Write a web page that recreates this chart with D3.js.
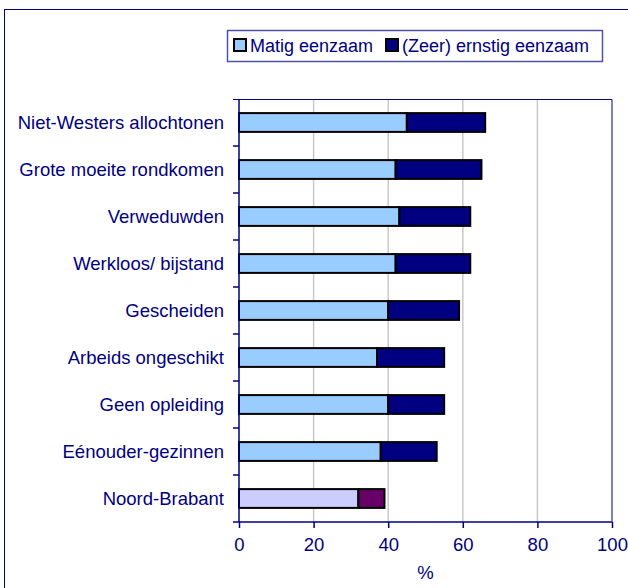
<!DOCTYPE html>
<html>
<head>
<meta charset="utf-8">
<script src="https://cdn.jsdelivr.net/npm/d3@7"></script>
<style>
  body { margin: 0; background: #fff; }
  svg { display: block; font-family: "Liberation Sans", Arial, sans-serif; }
</style>
</head>
<body>
<div id="chart"></div>
<script>
// data
const categories = ["Niet-Westers allochtonen", "Grote moeite rondkomen", "Verweduwden",
    "Werkloos/ bijstand", "Gescheiden", "Arbeids ongeschikt", "Geen opleiding",
    "Eénouder-gezinnen", "Noord-Brabant"];
const matig = [45, 42, 43, 42, 40, 37, 40, 38, 32];
const ernstig = [21, 23, 19, 20, 19, 18, 15, 15, 7];
const xTicks = [0, 20, 40, 60, 80, 100];
const seriesNames = ["Matig eenzaam", "(Zeer) ernstig eenzaam"];

const navy = "#000080";
const lightColors = ["#99ccff", "#ccccff"];
const darkColors = ["#000080", "#660066"];

const W = 628, H = 588;
const margin = {top: 99, right: 16, bottom: 66, left: 239};
const width = W - margin.left - margin.right,
      height = H - margin.top - margin.bottom;

const svg = d3.select("#chart").append("svg")
    .attr("width", W)
    .attr("height", H);

// outer chart frame
svg.append("rect")
    .attr("x", 4.5).attr("y", 9.5)
    .attr("width", 800).attr("height", 800)
    .attr("fill", "none").attr("stroke", navy).attr("stroke-width", 1);

const g = svg.append("g")
    .attr("transform", "translate(" + margin.left + "," + margin.top + ")");

const x = d3.scaleLinear().domain([0, 100]).range([0, width]);
const y = d3.scaleBand().domain(categories).range([0, height]).paddingInner(0.6).paddingOuter(0.3);
const yb = d3.scaleBand().domain(categories).range([0, height]);

// gridlines
g.selectAll(".grid")
    .data(xTicks.filter(d => d > 0 && d < 100))
    .join("line")
    .attr("x1", d => x(d)).attr("x2", d => x(d))
    .attr("y1", 0).attr("y2", height)
    .attr("stroke", "#c8c8c8").attr("stroke-width", 1.5);

// plot border top and right
g.append("path")
    .attr("d", "M-6,0.5H" + x(100) + "V" + height)
    .attr("fill", "none").attr("stroke", navy).attr("stroke-width", 1);

// bars
const rows = categories.map((c, i) => ({cat: c, m: matig[i], e: ernstig[i], last: i === categories.length - 1}));

g.selectAll(".bar-m")
    .data(rows)
    .join("rect")
    .attr("x", x(0))
    .attr("y", d => y(d.cat))
    .attr("width", d => x(d.m) - x(0))
    .attr("height", y.bandwidth())
    .attr("fill", d => d.last ? lightColors[1] : lightColors[0])
    .attr("stroke", "#000").attr("stroke-width", 2);

g.selectAll(".bar-e")
    .data(rows)
    .join("rect")
    .attr("x", d => x(d.m))
    .attr("y", d => y(d.cat))
    .attr("width", d => x(d.m + d.e) - x(d.m))
    .attr("height", y.bandwidth())
    .attr("fill", d => d.last ? darkColors[1] : darkColors[0])
    .attr("stroke", "#000").attr("stroke-width", 2);

// y axis
const yAxis = g.append("g");
yAxis.append("line")
    .attr("x1", 0).attr("x2", 0).attr("y1", 0).attr("y2", height)
    .attr("stroke", navy).attr("stroke-width", 1.5);
yAxis.selectAll(".ytick")
    .data(categories.slice(1))
    .join("line")
    .attr("x1", -6).attr("x2", 0)
    .attr("y1", d => yb(d)).attr("y2", d => yb(d))
    .attr("stroke", navy).attr("stroke-width", 1.5);
yAxis.selectAll(".ylabel")
    .data(categories)
    .join("text")
    .attr("x", -15)
    .attr("y", d => yb(d) + yb.bandwidth() / 2)
    .attr("dy", "0.35em")
    .attr("text-anchor", "end")
    .attr("fill", navy)
    .attr("font-size", 18.5)
    .text(d => d);

// x axis
const xAxis = g.append("g").attr("transform", "translate(0," + height + ")")
    .call(d3.axisBottom(x).tickValues(xTicks).tickSize(6).tickSizeOuter(0).tickPadding(10));
xAxis.select(".domain").attr("stroke", navy).attr("stroke-width", 1.5)
    .attr("d", "M-6,0H" + x(100));
xAxis.selectAll(".tick line").attr("stroke", navy).attr("stroke-width", 1.5);
xAxis.selectAll(".tick text").attr("fill", navy).attr("font-size", 18.5)
    .attr("font-family", "'Liberation Sans', Arial, sans-serif");

g.append("text")
    .attr("x", width / 2).attr("y", height + 57)
    .attr("text-anchor", "middle")
    .attr("fill", navy).attr("font-size", 18.5)
    .text("%");

// legend
const legend = svg.append("g");
legend.append("rect")
    .attr("x", 227.5).attr("y", 30.5).attr("width", 375).attr("height", 31)
    .attr("fill", "#fff").attr("stroke", "#5050a8").attr("stroke-width", 1.5);
const legX = [234, 386];
seriesNames.forEach((name, i) => {
    legend.append("rect")
        .attr("x", legX[i]).attr("y", 39).attr("width", 12).attr("height", 12)
        .attr("fill", i === 0 ? lightColors[0] : darkColors[0])
        .attr("stroke", "#000").attr("stroke-width", 2);
    legend.append("text")
        .attr("x", legX[i] + 16).attr("y", 52)
        .attr("fill", navy).attr("font-size", 18)
        .text(name);
});
</script>
</body>
</html>
